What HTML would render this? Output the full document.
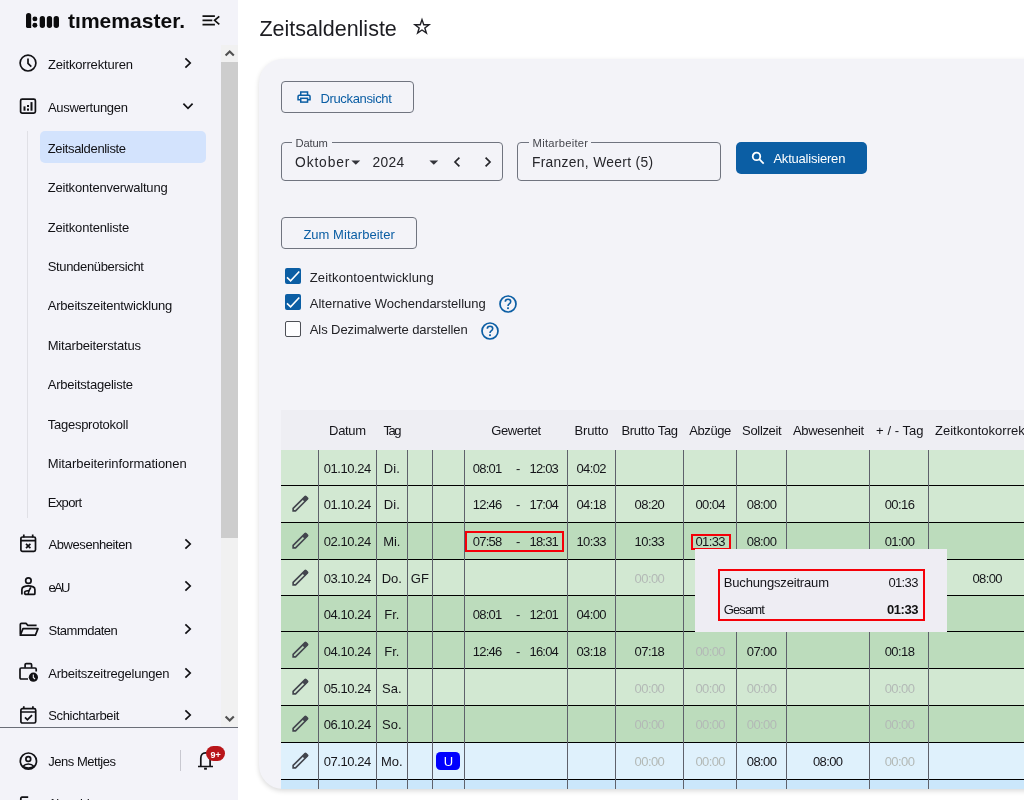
<!DOCTYPE html>
<html lang="de"><head><meta charset="utf-8"><title>Zeitsaldenliste - timemaster.</title>
<style>
html,body{margin:0;padding:0;}
body{width:1024px;height:800px;overflow:hidden;position:relative;background:#fff;font-family:"Liberation Sans",sans-serif;}
.a{position:absolute;box-sizing:border-box;}
.t{position:absolute;white-space:nowrap;line-height:20px;height:20px;}
svg{position:absolute;overflow:visible;}
</style></head><body>
<div class="a" style="left:0px;top:0px;width:238px;height:800px;background:#f3f3f9;"></div>
<div class="a" style="left:221px;top:45px;width:17px;height:682px;background:#f1f1f1;"></div>
<div class="a" style="left:221px;top:62px;width:17px;height:476px;background:#cdcdcd;"></div>
<svg style="left:221px;top:45px" width="17" height="17" viewBox="0 0 17 17"><path d="M4.6 10.6 L8.7 6.5 L12.8 10.6" fill="none" stroke="#505050" stroke-width="2.1"/></svg>
<svg style="left:221px;top:710px" width="17" height="17" viewBox="0 0 17 17"><path d="M4.6 6.4 L8.7 10.5 L12.8 6.4" fill="none" stroke="#505050" stroke-width="2.1"/></svg>
<svg style="left:0;top:0" width="70" height="40" viewBox="0 0 70 40">
<path d="M26 15.6 Q26 12.9 28.6 12.9 Q31.2 12.9 31.2 15.6 V27.9 H27.4 Q26 27.9 26 26.5 Z" fill="#0c0c0e"/>
<circle cx="34.9" cy="18.9" r="2.45" fill="#0c0c0e"/><circle cx="34.9" cy="25.3" r="2.45" fill="#0c0c0e"/>
<rect x="39.7" y="16.1" width="5.3" height="11.8" rx="2.6" fill="#0c0c0e"/>
<rect x="46.8" y="16.1" width="5.3" height="11.8" rx="2.6" fill="#0c0c0e"/>
<rect x="53.6" y="16.1" width="5.4" height="11.8" rx="2.6" fill="#0c0c0e"/>
</svg>
<span class="t" style="left:68.00px;top:11px;font-size:21px;color:#0c0c0e;letter-spacing:0.027px;font-weight:700;">tımemaster.</span>
<svg style="left:200px;top:10px" width="24" height="20" viewBox="0 0 24 20"><g fill="none" stroke="#111" stroke-width="1.7">
<path d="M2.5 6.1 H14.9 M2.5 10.3 H12.3 M2.5 14.7 H14.9"/><path d="M19.3 6.4 L14.6 10.3 L19.3 14.3"/></g></svg>
<span class="t" style="left:47.90px;top:55px;font-size:13px;color:#111115;letter-spacing:-0.166px;">Zeitkorrekturen</span>
<svg style="left:182.2px;top:56.4px" width="12" height="14" viewBox="-6 -7 12 14"><path d="M-2.6 -4.6 L2.2 0 L-2.6 4.6" fill="none" stroke="#111115" stroke-width="1.7"/></svg>
<span class="t" style="left:47.90px;top:98px;font-size:13px;color:#111115;letter-spacing:-0.274px;">Auswertungen</span>
<svg style="left:181.4px;top:99.6px" width="14" height="12" viewBox="-7 -6 14 12"><path d="M-4.6 -2.3 L0 2.3 L4.6 -2.3" fill="none" stroke="#111115" stroke-width="1.7"/></svg>
<span class="t" style="left:48.50px;top:535px;font-size:13px;color:#111115;letter-spacing:-0.425px;">Abwesenheiten</span>
<svg style="left:182.2px;top:536.5px" width="12" height="14" viewBox="-6 -7 12 14"><path d="M-2.6 -4.6 L2.2 0 L-2.6 4.6" fill="none" stroke="#111115" stroke-width="1.7"/></svg>
<span class="t" style="left:48.50px;top:578px;font-size:13px;color:#111115;letter-spacing:-1.645px;">eAU</span>
<svg style="left:182.2px;top:579.4px" width="12" height="14" viewBox="-6 -7 12 14"><path d="M-2.6 -4.6 L2.2 0 L-2.6 4.6" fill="none" stroke="#111115" stroke-width="1.7"/></svg>
<span class="t" style="left:48.50px;top:621px;font-size:13px;color:#111115;letter-spacing:-0.489px;">Stammdaten</span>
<svg style="left:182.2px;top:622.3px" width="12" height="14" viewBox="-6 -7 12 14"><path d="M-2.6 -4.6 L2.2 0 L-2.6 4.6" fill="none" stroke="#111115" stroke-width="1.7"/></svg>
<span class="t" style="left:48.20px;top:664px;font-size:13px;color:#111115;letter-spacing:-0.223px;">Arbeitszeitregelungen</span>
<svg style="left:182.2px;top:665.6px" width="12" height="14" viewBox="-6 -7 12 14"><path d="M-2.6 -4.6 L2.2 0 L-2.6 4.6" fill="none" stroke="#111115" stroke-width="1.7"/></svg>
<span class="t" style="left:48.20px;top:706px;font-size:13px;color:#111115;letter-spacing:-0.329px;">Schichtarbeit</span>
<svg style="left:182.2px;top:708.2px" width="12" height="14" viewBox="-6 -7 12 14"><path d="M-2.6 -4.6 L2.2 0 L-2.6 4.6" fill="none" stroke="#111115" stroke-width="1.7"/></svg>
<div class="a" style="left:27px;top:131px;width:1px;height:387px;background:#e0e0e6;"></div>
<div class="a" style="left:40px;top:131px;width:166px;height:32px;background:#d3e3fd;border-radius:5px;"></div>
<span class="t" style="left:47.70px;top:139px;font-size:13px;color:#111115;letter-spacing:-0.336px;">Zeitsaldenliste</span>
<span class="t" style="left:47.70px;top:178px;font-size:13px;color:#111115;letter-spacing:-0.188px;">Zeitkontenverwaltung</span>
<span class="t" style="left:47.70px;top:218px;font-size:13px;color:#111115;letter-spacing:-0.159px;">Zeitkontenliste</span>
<span class="t" style="left:47.70px;top:257px;font-size:13px;color:#111115;letter-spacing:-0.332px;">Stundenübersicht</span>
<span class="t" style="left:47.70px;top:296px;font-size:13px;color:#111115;letter-spacing:-0.191px;">Arbeitszeitentwicklung</span>
<span class="t" style="left:47.70px;top:336px;font-size:13px;color:#111115;letter-spacing:-0.168px;">Mitarbeiterstatus</span>
<span class="t" style="left:47.70px;top:375px;font-size:13px;color:#111115;letter-spacing:-0.232px;">Arbeitstageliste</span>
<span class="t" style="left:47.70px;top:415px;font-size:13px;color:#111115;letter-spacing:-0.248px;">Tagesprotokoll</span>
<span class="t" style="left:47.70px;top:454px;font-size:13px;color:#111115;letter-spacing:-0.051px;">Mitarbeiterinformationen</span>
<span class="t" style="left:47.70px;top:493px;font-size:13px;color:#111115;letter-spacing:-0.634px;">Export</span>
<svg style="left:18px;top:53px" width="20" height="20" viewBox="0 0 20 20"><g fill="none" stroke="#111115" stroke-width="1.7">
<circle cx="10" cy="10.1" r="7.9"/><path d="M10 5.4 V10.4 L13.3 13.6"/></g></svg>
<svg style="left:18px;top:96px" width="20" height="20" viewBox="0 0 20 20"><g fill="none" stroke="#111115" stroke-width="1.7">
<rect x="2.6" y="3.2" width="14.8" height="14" rx="1.6"/></g><g fill="#111115"><rect x="5.5" y="10.4" width="2" height="4.3"/><rect x="9" y="9" width="2" height="2"/><rect x="9" y="12.5" width="2" height="2.2"/><rect x="12.5" y="6.1" width="2" height="8.6"/></g></svg>
<svg style="left:18px;top:533px" width="20" height="20" viewBox="0 0 20 20"><g fill="none" stroke="#111115" stroke-width="1.7">
<rect x="2.9" y="4" width="14.6" height="14.4" rx="1.6"/><path d="M2.9 7.6 H17.5 M5.8 1.6 V4.6 M14.7 1.6 V4.6"/><path d="M8 10.8 L12.4 15.2 M12.4 10.8 L8 15.2" stroke-width="1.7"/></g></svg>
<svg style="left:18px;top:576px" width="20" height="20" viewBox="0 0 20 20"><g fill="none" stroke="#111115" stroke-width="1.7" stroke-linecap="butt">
<circle cx="10.4" cy="4.7" r="2.75"/><path d="M3.9 18.6 V13.4 Q3.9 11.6 5.6 10.9 Q8 9.9 10.4 9.9 Q12.8 9.9 15.2 10.9 Q16.9 11.6 16.9 13.4 V17.4 Q16.9 18.4 15.9 18.4 H8.4 Q6.6 18.4 6.6 16.7 Q6.6 15.2 8.2 15 L11 14.6 L12.8 11.4"/><path d="M11 14.6 L10.2 18.2" stroke-width="1.4"/></g></svg>
<svg style="left:18px;top:619px" width="22" height="20" viewBox="0 0 22 20"><g fill="none" stroke="#111115" stroke-width="1.7" stroke-linejoin="round">
<path d="M2.3 15.6 V5.6 Q2.3 4.4 3.5 4.4 H8 L9.8 6.3 H18.6"/><path d="M2.3 16.2 L5 9.6 H20 L17.4 16.2 Z"/></g></svg>
<svg style="left:18px;top:661px" width="22" height="22" viewBox="0 0 22 22"><g fill="none" stroke="#111115" stroke-width="1.7">
<path d="M10 18 H3.2 Q2 18 2 16.8 V8.2 Q2 7 3.2 7 H17 Q18.2 7 18.2 8.2 V10.6"/><path d="M7.1 6.8 V3.8 Q7.1 2.6 8.3 2.6 H12.4 Q13.6 2.6 13.6 3.8 V6.8"/></g>
<circle cx="15.4" cy="16.2" r="4.6" fill="#111115"/><path d="M15.3 13.6 V16.4 L17 18" fill="none" stroke="#f3f3f9" stroke-width="1.1"/></svg>
<svg style="left:18px;top:704px" width="20" height="21" viewBox="0 0 20 21"><g fill="none" stroke="#111115" stroke-width="1.7">
<rect x="2.9" y="4.6" width="14.8" height="14.4" rx="1.6"/><path d="M2.9 8 H17.7 M5.8 2.2 V5 M14.9 2.2 V5"/><path d="M7 13.4 L9.4 15.8 L14 11.2" stroke-width="1.8"/></g></svg>
<div class="a" style="left:0px;top:727px;width:238px;height:1px;background:#6a6e78;"></div>
<svg style="left:18px;top:751px" width="21" height="21" viewBox="0 0 21 21"><g fill="none" stroke="#111115" stroke-width="1.7">
<circle cx="10.4" cy="10.1" r="8.1"/><circle cx="10.3" cy="8" r="2.4"/><path d="M4.8 15.4 Q7 12.9 10.4 12.9 Q13.8 12.9 16 15.4 Q13.6 17 10.4 17 Q7.2 17 4.8 15.4Z" stroke-width="1.5"/></g></svg>
<span class="t" style="left:48.20px;top:752px;font-size:13px;color:#111115;letter-spacing:-0.470px;">Jens Mettjes</span>
<div class="a" style="left:180px;top:750px;width:1px;height:21px;background:#c8c8d0;"></div>
<svg style="left:196px;top:750px" width="20" height="22" viewBox="0 0 20 22"><g fill="none" stroke="#111115" stroke-width="1.7">
<path d="M2 16.5 H17 M4.8 16.5 V8.2 C4.8 4.8 6.6 2.9 9.45 2.9 C12.3 2.9 14.1 4.8 14.1 8.2 V16.5"/><path d="M8.1 18.7 H10.9" stroke-width="2"/></g></svg>
<div class="a" style="left:206px;top:746px;width:19px;height:15px;background:#b9161a;border-radius:8px;"></div>
<span class="t" style="left:210.47px;top:745px;font-size:9px;color:#fff;font-weight:700;">9+</span>
<svg style="left:18px;top:794px" width="20" height="20" viewBox="0 0 20 20"><g fill="none" stroke="#111115" stroke-width="1.7">
<path d="M10.2 3.2 H4 Q2.8 3.2 2.8 4.4 V17"/></g></svg>
<span class="t" style="left:48.20px;top:794px;font-size:13px;color:#111115;letter-spacing:-0.506px;">Abmelden</span>
<span class="t" style="left:259.40px;top:19px;font-size:21.5px;color:#1d1d22;">Zeitsaldenliste</span>
<svg style="left:412.4px;top:17.2px" width="20" height="20" viewBox="-10 -10 20 20"><path d="M0.00 -9.60 L2.26 -3.11 L9.13 -2.97 L3.65 1.19 L5.64 7.77 L0.00 3.84 L-5.64 7.77 L-3.65 1.19 L-9.13 -2.97 L-2.26 -3.11Z M0.00 -5.18 L1.24 -1.61 L5.02 -1.53 L2.01 0.75 L3.10 4.37 L0.00 2.21 L-3.10 4.37 L-2.01 0.75 L-5.02 -1.53 L-1.24 -1.61Z" fill="#202026" fill-rule="evenodd"/></svg>
<div class="a" style="left:259px;top:59px;width:800px;height:730px;background:#f3f3f8;border-radius:24px;box-shadow:0 2px 5px rgba(0,0,0,0.15);"></div>
<div class="a" style="left:281px;top:81px;width:133px;height:32px;border:1px solid #70747f;border-radius:4px;"></div>
<svg style="left:296px;top:89px" width="16" height="16" viewBox="0 0 16 16"><g fill="none" stroke="#0b5ea4" stroke-width="1.5">
<path d="M4.75 6 V2.95 H11.55 V6"/><path d="M4.6 10.8 H2.05 V7.4 Q2.05 6.2 3.25 6.2 H12.85 Q14.05 6.2 14.05 7.4 V10.8 H11.7"/><rect x="4.75" y="9.3" width="6.8" height="3.8"/></g></svg>
<span class="t" style="left:320.40px;top:89px;font-size:13px;color:#0b5ea4;letter-spacing:-0.340px;">Druckansicht</span>
<div class="a" style="left:281px;top:142px;width:222px;height:39px;border:1px solid #70747f;border-radius:4px;"></div>
<div class="a" style="left:292px;top:142px;width:40px;height:1px;background:#f3f3f8;"></div>
<span class="t" style="left:295.60px;top:133px;font-size:11.2px;color:#45464d;letter-spacing:-0.173px;">Datum</span>
<span class="t" style="left:295.10px;top:153px;font-size:13.8px;color:#26262b;letter-spacing:0.852px;">Oktober</span>
<span class="t" style="left:372.50px;top:153px;font-size:13.8px;color:#26262b;letter-spacing:0.367px;">2024</span>
<svg style="left:350.9px;top:160.2px" width="10" height="6" viewBox="0 0 10 6"><path d="M0.4 0.4 H9.2 L4.8 4.8 Z" fill="#33343a"/></svg>
<svg style="left:429px;top:160.2px" width="10" height="6" viewBox="0 0 10 6"><path d="M0.4 0.4 H9.2 L4.8 4.8 Z" fill="#33343a"/></svg>
<svg style="left:451px;top:155.3px" width="12" height="14" viewBox="-6 -7 12 14"><path d="M2.4 -4.4 L-2 0 L2.4 4.4" fill="none" stroke="#26262b" stroke-width="1.7"/></svg>
<svg style="left:481.6px;top:155.3px" width="12" height="14" viewBox="-6 -7 12 14"><path d="M-2.4 -4.4 L2 0 L-2.4 4.4" fill="none" stroke="#26262b" stroke-width="1.7"/></svg>
<div class="a" style="left:517px;top:142px;width:204px;height:39px;border:1px solid #70747f;border-radius:4px;"></div>
<div class="a" style="left:529px;top:142px;width:62px;height:1px;background:#f3f3f8;"></div>
<span class="t" style="left:532.60px;top:133px;font-size:11.2px;color:#45464d;letter-spacing:0.250px;">Mitarbeiter</span>
<span class="t" style="left:531.90px;top:153px;font-size:13.8px;color:#26262b;letter-spacing:0.338px;">Franzen, Weert (5)</span>
<div class="a" style="left:736px;top:142px;width:131px;height:32px;background:#0b5ea4;border-radius:5px;"></div>
<svg style="left:750px;top:150px" width="16" height="16" viewBox="0 0 16 16"><g fill="none" stroke="#fff" stroke-width="1.8"><circle cx="6.5" cy="6.4" r="3.75"/><path d="M9.3 9.2 L13.7 13.6"/></g></svg>
<span class="t" style="left:773.40px;top:149px;font-size:13px;color:#fff;letter-spacing:-0.203px;">Aktualisieren</span>
<div class="a" style="left:281px;top:217px;width:136px;height:32px;border:1px solid #70747f;border-radius:4px;"></div>
<span class="t" style="left:303.40px;top:225px;font-size:13px;color:#0b5ea4;letter-spacing:0.027px;">Zum Mitarbeiter</span>
<div class="a" style="left:285px;top:268px;width:16px;height:16px;background:#0b5ea4;border-radius:2px;"></div>
<svg style="left:285px;top:268px" width="16" height="16" viewBox="0 0 16 16"><path d="M2 9.4 L5.6 12.8 L14.3 3.5" fill="none" stroke="#fff" stroke-width="1.6"/></svg>
<span class="t" style="left:309.80px;top:268px;font-size:13px;color:#222226;letter-spacing:0.132px;">Zeitkontoentwicklung</span>
<div class="a" style="left:285px;top:294px;width:16px;height:16px;background:#0b5ea4;border-radius:2px;"></div>
<svg style="left:285px;top:294px" width="16" height="16" viewBox="0 0 16 16"><path d="M2 9.4 L5.6 12.8 L14.3 3.5" fill="none" stroke="#fff" stroke-width="1.6"/></svg>
<span class="t" style="left:309.80px;top:294px;font-size:13px;color:#222226;letter-spacing:-0.006px;">Alternative Wochendarstellung</span>
<svg style="left:498px;top:294.3px" width="20" height="20" viewBox="-10 -10 20 20"><circle cx="0" cy="0" r="8" fill="none" stroke="#0b5ea4" stroke-width="1.7"/>
<path d="M-2.7 -2.2 Q-2.7 -4.7 0 -4.7 Q2.7 -4.7 2.7 -2.4 Q2.7 -1 1.2 -0.1 Q0 0.7 0 2" fill="none" stroke="#0b5ea4" stroke-width="1.6"/><rect x="-0.9" y="3.3" width="1.8" height="1.8" fill="#0b5ea4"/></svg>
<div class="a" style="left:285px;top:321px;width:16px;height:16px;background:#fdfdff;border:1px solid #4d4f56;border-radius:2px;"></div>
<span class="t" style="left:309.80px;top:320px;font-size:13px;color:#222226;letter-spacing:-0.096px;">Als Dezimalwerte darstellen</span>
<svg style="left:480px;top:321px" width="20" height="20" viewBox="-10 -10 20 20"><circle cx="0" cy="0" r="8" fill="none" stroke="#0b5ea4" stroke-width="1.7"/>
<path d="M-2.7 -2.2 Q-2.7 -4.7 0 -4.7 Q2.7 -4.7 2.7 -2.4 Q2.7 -1 1.2 -0.1 Q0 0.7 0 2" fill="none" stroke="#0b5ea4" stroke-width="1.6"/><rect x="-0.9" y="3.3" width="1.8" height="1.8" fill="#0b5ea4"/></svg>
<div class="a" style="left:281px;top:410px;width:743px;height:379px;overflow:hidden;">
<div class="a" style="left:0px;top:0px;width:800px;height:40px;background:#eeeef3;"></div>
<div class="a" style="left:0px;top:40px;width:800px;height:35px;background:#d2e8d2;"></div>
<div class="a" style="left:0px;top:75px;width:800px;height:1px;background:#000;"></div>
<div class="a" style="left:0px;top:76px;width:800px;height:36px;background:#d2e8d2;"></div>
<div class="a" style="left:0px;top:112px;width:800px;height:1px;background:#000;"></div>
<div class="a" style="left:0px;top:113px;width:800px;height:36px;background:#bcdcbc;"></div>
<div class="a" style="left:0px;top:149px;width:800px;height:1px;background:#000;"></div>
<div class="a" style="left:0px;top:150px;width:800px;height:35px;background:#d2e8d2;"></div>
<div class="a" style="left:0px;top:185px;width:800px;height:1px;background:#000;"></div>
<div class="a" style="left:0px;top:186px;width:800px;height:35px;background:#bcdcbc;"></div>
<div class="a" style="left:0px;top:221px;width:800px;height:1px;background:#000;"></div>
<div class="a" style="left:0px;top:222px;width:800px;height:36px;background:#bcdcbc;"></div>
<div class="a" style="left:0px;top:258px;width:800px;height:1px;background:#000;"></div>
<div class="a" style="left:0px;top:259px;width:800px;height:36px;background:#d2e8d2;"></div>
<div class="a" style="left:0px;top:295px;width:800px;height:1px;background:#000;"></div>
<div class="a" style="left:0px;top:296px;width:800px;height:36px;background:#bcdcbc;"></div>
<div class="a" style="left:0px;top:332px;width:800px;height:1px;background:#000;"></div>
<div class="a" style="left:0px;top:333px;width:800px;height:36px;background:#dff1fc;"></div>
<div class="a" style="left:0px;top:369px;width:800px;height:1px;background:#000;"></div>
<div class="a" style="left:0px;top:370px;width:800px;height:36px;background:#cbe7fb;"></div>
<div class="a" style="left:0px;top:406px;width:800px;height:1px;background:#000;"></div>
<div class="a" style="left:37px;top:40px;width:1px;height:400px;background:#5e616b;"></div>
<div class="a" style="left:95px;top:40px;width:1px;height:400px;background:#5e616b;"></div>
<div class="a" style="left:126px;top:40px;width:1px;height:400px;background:#5e616b;"></div>
<div class="a" style="left:151px;top:40px;width:1px;height:400px;background:#5e616b;"></div>
<div class="a" style="left:183px;top:40px;width:1px;height:400px;background:#5e616b;"></div>
<div class="a" style="left:286px;top:40px;width:1px;height:400px;background:#5e616b;"></div>
<div class="a" style="left:334px;top:40px;width:1px;height:400px;background:#5e616b;"></div>
<div class="a" style="left:402px;top:40px;width:1px;height:400px;background:#5e616b;"></div>
<div class="a" style="left:455px;top:40px;width:1px;height:400px;background:#5e616b;"></div>
<div class="a" style="left:505px;top:40px;width:1px;height:400px;background:#5e616b;"></div>
<div class="a" style="left:588px;top:40px;width:1px;height:400px;background:#5e616b;"></div>
<div class="a" style="left:647px;top:40px;width:1px;height:400px;background:#5e616b;"></div>
<span class="t" style="left:42.80px;top:49px;font-size:13px;color:#15151a;letter-spacing:-0.443px;">01.10.24</span>
<span class="t" style="left:102.86px;top:49px;font-size:13px;color:#15151a;">Di.</span>
<span class="t" style="left:191.80px;top:49px;font-size:13px;color:#15151a;letter-spacing:-0.758px;">08:01</span>
<span class="t" style="left:235.00px;top:49px;font-size:13px;color:#15151a;">-</span>
<span class="t" style="left:248.50px;top:49px;font-size:13px;color:#15151a;letter-spacing:-0.808px;">12:03</span>
<span class="t" style="left:295.40px;top:49px;font-size:13px;color:#15151a;letter-spacing:-0.583px;">04:02</span>
<svg style="left:6.50px;top:82.10px" width="24" height="24" viewBox="-12 -12 24 24"><g transform="rotate(45)">
<path d="M-1.7 -8.8 Q-1.7 -9.4 -1.1 -9.4 H1.1 Q1.7 -9.4 1.7 -8.8 V8 L0 9.7 L-1.7 8 Z" fill="none" stroke="#43464e" stroke-width="1.65" stroke-linejoin="miter"/><rect x="-1.9" y="-9.5" width="3.8" height="4.6" fill="#43464e"/></g></svg>
<span class="t" style="left:42.80px;top:85px;font-size:13px;color:#15151a;letter-spacing:-0.443px;">01.10.24</span>
<span class="t" style="left:102.86px;top:85px;font-size:13px;color:#15151a;">Di.</span>
<span class="t" style="left:191.80px;top:85px;font-size:13px;color:#15151a;letter-spacing:-0.758px;">12:46</span>
<span class="t" style="left:235.00px;top:85px;font-size:13px;color:#15151a;">-</span>
<span class="t" style="left:248.50px;top:85px;font-size:13px;color:#15151a;letter-spacing:-0.808px;">17:04</span>
<span class="t" style="left:295.40px;top:85px;font-size:13px;color:#15151a;letter-spacing:-0.583px;">04:18</span>
<span class="t" style="left:353.60px;top:85px;font-size:13px;color:#15151a;letter-spacing:-0.583px;">08:20</span>
<span class="t" style="left:414.40px;top:85px;font-size:13px;color:#15151a;letter-spacing:-0.583px;">00:04</span>
<span class="t" style="left:465.80px;top:85px;font-size:13px;color:#15151a;letter-spacing:-0.583px;">08:00</span>
<span class="t" style="left:603.70px;top:85px;font-size:13px;color:#15151a;letter-spacing:-0.583px;">00:16</span>
<svg style="left:6.50px;top:119.10px" width="24" height="24" viewBox="-12 -12 24 24"><g transform="rotate(45)">
<path d="M-1.7 -8.8 Q-1.7 -9.4 -1.1 -9.4 H1.1 Q1.7 -9.4 1.7 -8.8 V8 L0 9.7 L-1.7 8 Z" fill="none" stroke="#43464e" stroke-width="1.65" stroke-linejoin="miter"/><rect x="-1.9" y="-9.5" width="3.8" height="4.6" fill="#43464e"/></g></svg>
<span class="t" style="left:42.80px;top:122px;font-size:13px;color:#15151a;letter-spacing:-0.443px;">02.10.24</span>
<span class="t" style="left:102.14px;top:122px;font-size:13px;color:#15151a;">Mi.</span>
<span class="t" style="left:191.80px;top:122px;font-size:13px;color:#15151a;letter-spacing:-0.758px;">07:58</span>
<span class="t" style="left:235.00px;top:122px;font-size:13px;color:#15151a;">-</span>
<span class="t" style="left:248.50px;top:122px;font-size:13px;color:#15151a;letter-spacing:-0.808px;">18:31</span>
<span class="t" style="left:295.40px;top:122px;font-size:13px;color:#15151a;letter-spacing:-0.583px;">10:33</span>
<span class="t" style="left:353.60px;top:122px;font-size:13px;color:#15151a;letter-spacing:-0.583px;">10:33</span>
<span class="t" style="left:414.40px;top:122px;font-size:13px;color:#15151a;letter-spacing:-0.583px;">01:33</span>
<span class="t" style="left:465.80px;top:122px;font-size:13px;color:#15151a;letter-spacing:-0.583px;">08:00</span>
<span class="t" style="left:603.70px;top:122px;font-size:13px;color:#15151a;letter-spacing:-0.583px;">01:00</span>
<svg style="left:6.50px;top:155.60px" width="24" height="24" viewBox="-12 -12 24 24"><g transform="rotate(45)">
<path d="M-1.7 -8.8 Q-1.7 -9.4 -1.1 -9.4 H1.1 Q1.7 -9.4 1.7 -8.8 V8 L0 9.7 L-1.7 8 Z" fill="none" stroke="#43464e" stroke-width="1.65" stroke-linejoin="miter"/><rect x="-1.9" y="-9.5" width="3.8" height="4.6" fill="#43464e"/></g></svg>
<span class="t" style="left:42.80px;top:159px;font-size:13px;color:#15151a;letter-spacing:-0.443px;">03.10.24</span>
<span class="t" style="left:100.69px;top:159px;font-size:13px;color:#15151a;">Do.</span>
<span class="t" style="left:129.78px;top:159px;font-size:13px;color:#15151a;">GF</span>
<span class="t" style="left:353.60px;top:159px;font-size:13px;color:#b3b9b6;letter-spacing:-0.583px;">00:00</span>
<span class="t" style="left:414.40px;top:159px;font-size:13px;color:#b3b9b6;letter-spacing:-0.583px;">00:00</span>
<span class="t" style="left:465.80px;top:159px;font-size:13px;color:#b3b9b6;letter-spacing:-0.583px;">00:00</span>
<span class="t" style="left:603.70px;top:159px;font-size:13px;color:#b3b9b6;letter-spacing:-0.583px;">00:00</span>
<span class="t" style="left:691.40px;top:159px;font-size:13px;color:#15151a;letter-spacing:-0.583px;">08:00</span>
<span class="t" style="left:42.80px;top:195px;font-size:13px;color:#15151a;letter-spacing:-0.443px;">04.10.24</span>
<span class="t" style="left:103.22px;top:195px;font-size:13px;color:#15151a;">Fr.</span>
<span class="t" style="left:191.80px;top:195px;font-size:13px;color:#15151a;letter-spacing:-0.758px;">08:01</span>
<span class="t" style="left:235.00px;top:195px;font-size:13px;color:#15151a;">-</span>
<span class="t" style="left:248.50px;top:195px;font-size:13px;color:#15151a;letter-spacing:-0.808px;">12:01</span>
<span class="t" style="left:295.40px;top:195px;font-size:13px;color:#15151a;letter-spacing:-0.583px;">04:00</span>
<svg style="left:6.50px;top:228.10px" width="24" height="24" viewBox="-12 -12 24 24"><g transform="rotate(45)">
<path d="M-1.7 -8.8 Q-1.7 -9.4 -1.1 -9.4 H1.1 Q1.7 -9.4 1.7 -8.8 V8 L0 9.7 L-1.7 8 Z" fill="none" stroke="#43464e" stroke-width="1.65" stroke-linejoin="miter"/><rect x="-1.9" y="-9.5" width="3.8" height="4.6" fill="#43464e"/></g></svg>
<span class="t" style="left:42.80px;top:232px;font-size:13px;color:#15151a;letter-spacing:-0.443px;">04.10.24</span>
<span class="t" style="left:103.22px;top:232px;font-size:13px;color:#15151a;">Fr.</span>
<span class="t" style="left:191.80px;top:232px;font-size:13px;color:#15151a;letter-spacing:-0.758px;">12:46</span>
<span class="t" style="left:235.00px;top:232px;font-size:13px;color:#15151a;">-</span>
<span class="t" style="left:248.50px;top:232px;font-size:13px;color:#15151a;letter-spacing:-0.808px;">16:04</span>
<span class="t" style="left:295.40px;top:232px;font-size:13px;color:#15151a;letter-spacing:-0.583px;">03:18</span>
<span class="t" style="left:353.60px;top:232px;font-size:13px;color:#15151a;letter-spacing:-0.583px;">07:18</span>
<span class="t" style="left:414.40px;top:232px;font-size:13px;color:#b3b9b6;letter-spacing:-0.583px;">00:00</span>
<span class="t" style="left:465.80px;top:232px;font-size:13px;color:#15151a;letter-spacing:-0.583px;">07:00</span>
<span class="t" style="left:603.70px;top:232px;font-size:13px;color:#15151a;letter-spacing:-0.583px;">00:18</span>
<svg style="left:6.50px;top:265.10px" width="24" height="24" viewBox="-12 -12 24 24"><g transform="rotate(45)">
<path d="M-1.7 -8.8 Q-1.7 -9.4 -1.1 -9.4 H1.1 Q1.7 -9.4 1.7 -8.8 V8 L0 9.7 L-1.7 8 Z" fill="none" stroke="#43464e" stroke-width="1.65" stroke-linejoin="miter"/><rect x="-1.9" y="-9.5" width="3.8" height="4.6" fill="#43464e"/></g></svg>
<span class="t" style="left:42.80px;top:269px;font-size:13px;color:#15151a;letter-spacing:-0.443px;">05.10.24</span>
<span class="t" style="left:101.05px;top:269px;font-size:13px;color:#15151a;">Sa.</span>
<span class="t" style="left:353.60px;top:269px;font-size:13px;color:#b3b9b6;letter-spacing:-0.583px;">00:00</span>
<span class="t" style="left:414.40px;top:269px;font-size:13px;color:#b3b9b6;letter-spacing:-0.583px;">00:00</span>
<span class="t" style="left:465.80px;top:269px;font-size:13px;color:#b3b9b6;letter-spacing:-0.583px;">00:00</span>
<span class="t" style="left:603.70px;top:269px;font-size:13px;color:#b3b9b6;letter-spacing:-0.583px;">00:00</span>
<svg style="left:6.50px;top:302.10px" width="24" height="24" viewBox="-12 -12 24 24"><g transform="rotate(45)">
<path d="M-1.7 -8.8 Q-1.7 -9.4 -1.1 -9.4 H1.1 Q1.7 -9.4 1.7 -8.8 V8 L0 9.7 L-1.7 8 Z" fill="none" stroke="#43464e" stroke-width="1.65" stroke-linejoin="miter"/><rect x="-1.9" y="-9.5" width="3.8" height="4.6" fill="#43464e"/></g></svg>
<span class="t" style="left:42.80px;top:305px;font-size:13px;color:#15151a;letter-spacing:-0.443px;">06.10.24</span>
<span class="t" style="left:101.05px;top:305px;font-size:13px;color:#15151a;">So.</span>
<span class="t" style="left:353.60px;top:305px;font-size:13px;color:#b3b9b6;letter-spacing:-0.583px;">00:00</span>
<span class="t" style="left:414.40px;top:305px;font-size:13px;color:#b3b9b6;letter-spacing:-0.583px;">00:00</span>
<span class="t" style="left:465.80px;top:305px;font-size:13px;color:#b3b9b6;letter-spacing:-0.583px;">00:00</span>
<span class="t" style="left:603.70px;top:305px;font-size:13px;color:#b3b9b6;letter-spacing:-0.583px;">00:00</span>
<svg style="left:6.50px;top:339.10px" width="24" height="24" viewBox="-12 -12 24 24"><g transform="rotate(45)">
<path d="M-1.7 -8.8 Q-1.7 -9.4 -1.1 -9.4 H1.1 Q1.7 -9.4 1.7 -8.8 V8 L0 9.7 L-1.7 8 Z" fill="none" stroke="#43464e" stroke-width="1.65" stroke-linejoin="miter"/><rect x="-1.9" y="-9.5" width="3.8" height="4.6" fill="#43464e"/></g></svg>
<span class="t" style="left:42.80px;top:342px;font-size:13px;color:#15151a;letter-spacing:-0.443px;">07.10.24</span>
<span class="t" style="left:99.97px;top:342px;font-size:13px;color:#15151a;">Mo.</span>
<div class="a" style="left:155px;top:341.6px;width:24.3px;height:18.4px;background:#0000fe;border-radius:4.5px;"></div>
<span class="t" style="left:162.70px;top:342px;font-size:13px;color:#fff;">U</span>
<span class="t" style="left:353.60px;top:342px;font-size:13px;color:#b3b9b6;letter-spacing:-0.583px;">00:00</span>
<span class="t" style="left:414.40px;top:342px;font-size:13px;color:#b3b9b6;letter-spacing:-0.583px;">00:00</span>
<span class="t" style="left:465.80px;top:342px;font-size:13px;color:#15151a;letter-spacing:-0.583px;">08:00</span>
<span class="t" style="left:531.90px;top:342px;font-size:13px;color:#15151a;letter-spacing:-0.583px;">08:00</span>
<span class="t" style="left:603.70px;top:342px;font-size:13px;color:#b3b9b6;letter-spacing:-0.583px;">00:00</span>
<span class="t" style="left:48.10px;top:11px;font-size:13px;color:#15151a;letter-spacing:-0.348px;">Datum</span>
<span class="t" style="left:102.40px;top:11px;font-size:13px;color:#15151a;letter-spacing:-1.380px;">Tag</span>
<span class="t" style="left:210.30px;top:11px;font-size:13px;color:#15151a;letter-spacing:-0.406px;">Gewertet</span>
<span class="t" style="left:293.50px;top:11px;font-size:13px;color:#15151a;letter-spacing:-0.136px;">Brutto</span>
<span class="t" style="left:340.40px;top:11px;font-size:13px;color:#15151a;letter-spacing:-0.258px;">Brutto Tag</span>
<span class="t" style="left:408.30px;top:11px;font-size:13px;color:#15151a;letter-spacing:-0.438px;">Abzüge</span>
<span class="t" style="left:461.10px;top:11px;font-size:13px;color:#15151a;letter-spacing:-0.330px;">Sollzeit</span>
<span class="t" style="left:512.00px;top:11px;font-size:13px;color:#15151a;letter-spacing:-0.324px;">Abwesenheit</span>
<span class="t" style="left:595.10px;top:11px;font-size:13px;color:#15151a;letter-spacing:0.039px;">+ / - Tag</span>
<span class="t" style="left:654.00px;top:11px;font-size:13px;color:#15151a;letter-spacing:0.014px;">Zeitkontokorrektur</span>
<div class="a" style="left:184px;top:120.5px;width:99px;height:21.5px;border:2px solid #f50008;"></div>
<div class="a" style="left:410px;top:123.5px;width:40px;height:16.5px;border:2px solid #f50008;"></div>
</div>
<div class="a" style="left:695px;top:549px;width:252px;height:83px;background:#eeedf3;"></div>
<div class="a" style="left:718px;top:569px;width:207px;height:52px;border:2px solid #f50008;"></div>
<span class="t" style="left:723.80px;top:573px;font-size:13px;color:#15151a;letter-spacing:-0.165px;">Buchungszeitraum</span>
<span class="t" style="left:888.40px;top:573px;font-size:13px;color:#15151a;letter-spacing:-0.633px;">01:33</span>
<span class="t" style="left:723.80px;top:600px;font-size:13px;color:#15151a;letter-spacing:-0.902px;">Gesamt</span>
<span class="t" style="left:887.00px;top:600px;font-size:13px;color:#111;letter-spacing:-0.463px;font-weight:700;">01:33</span>
</body></html>
